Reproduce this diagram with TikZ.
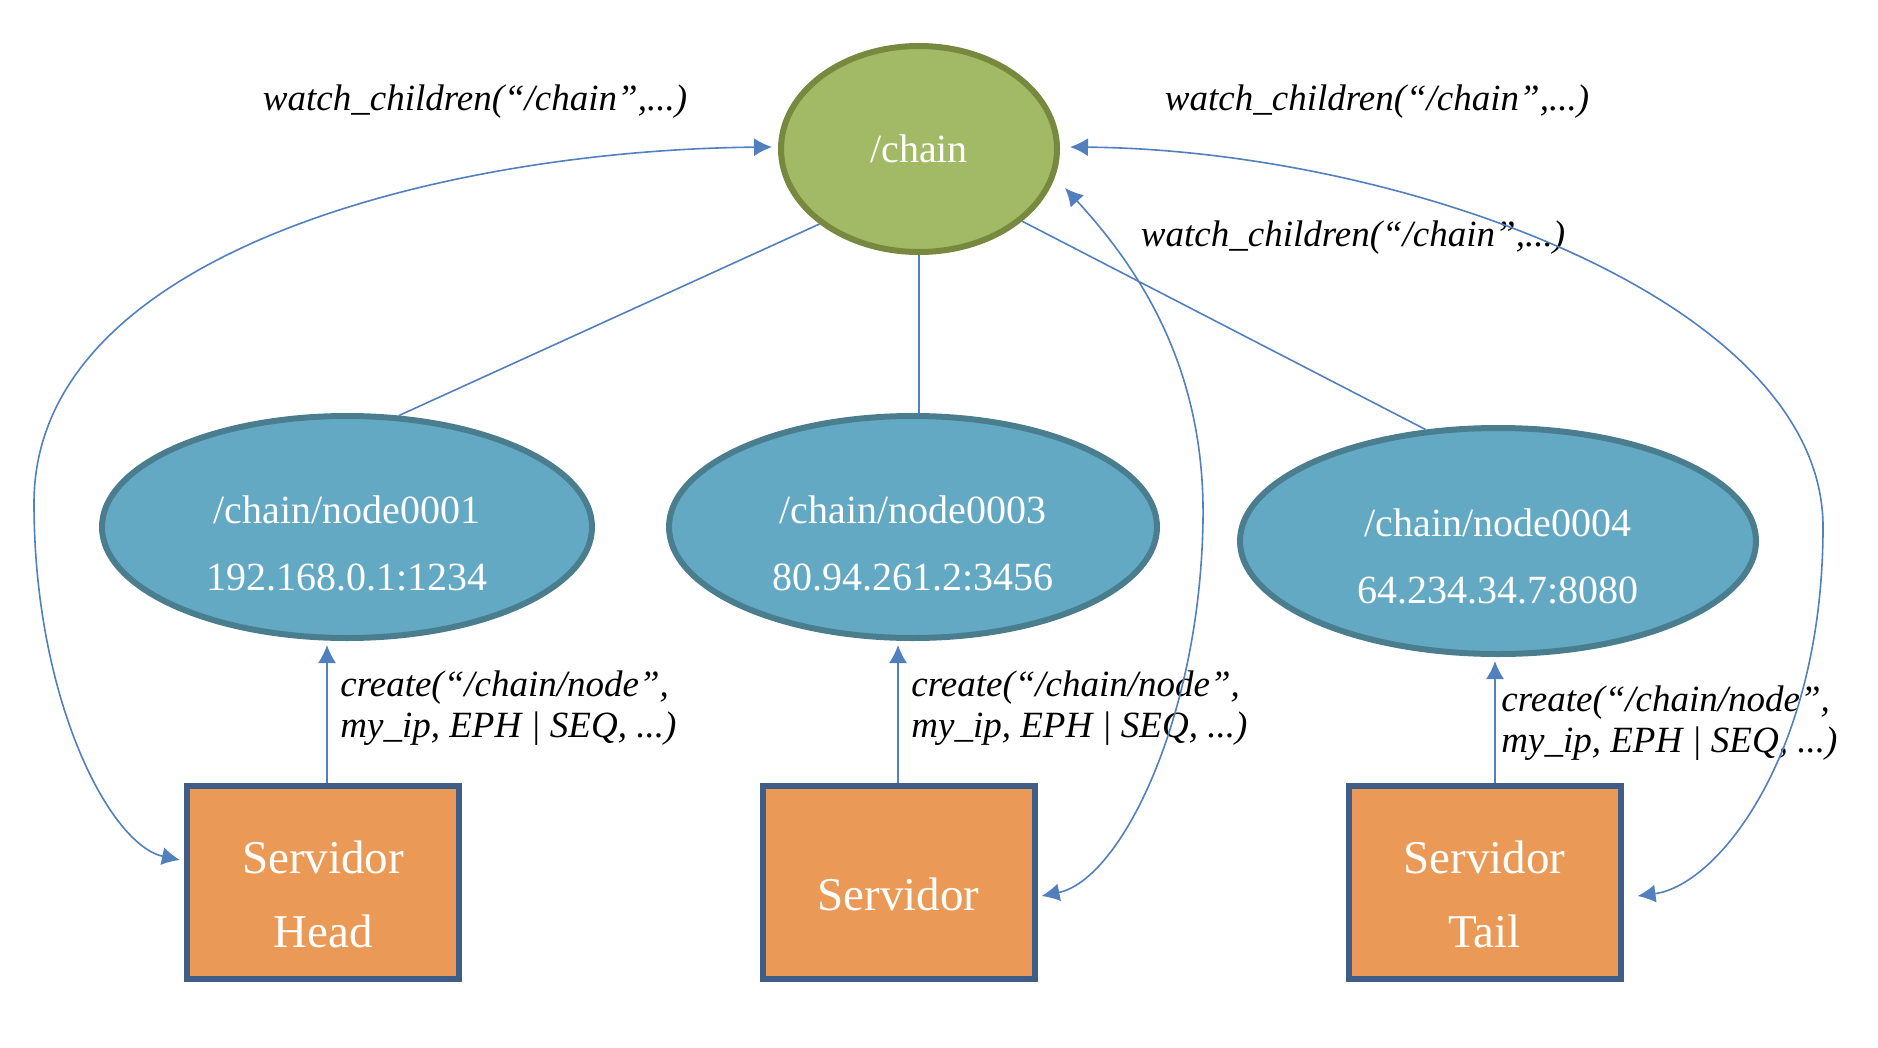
\documentclass[tikz,border=0pt]{standalone}
\usepackage{fontspec}
\setmainfont{Liberation Serif}
\usetikzlibrary{arrows.meta,calc,shapes.geometric}
\definecolor{gfill}{RGB}{162,185,101}
\definecolor{gdraw}{RGB}{118,137,63}
\definecolor{bfill}{RGB}{99,169,196}
\definecolor{bdraw}{RGB}{74,126,143}
\definecolor{ofill}{RGB}{234,154,86}
\definecolor{odraw}{RGB}{64,93,135}
\definecolor{lcol}{RGB}{82,127,190}
\begin{document}
\begin{tikzpicture}[x=0.5pt,y=-0.5pt,
  chainst/.style={ellipse,draw=gdraw,fill=gfill,line width=3pt,inner sep=0pt,minimum width=138pt,minimum height=103pt},
  znode/.style={ellipse,draw=bdraw,fill=bfill,line width=3pt,inner sep=0pt},
  srv/.style={rectangle,draw=odraw,fill=ofill,line width=3pt,inner sep=0pt,minimum width=136pt,minimum height=96.5pt},
  wtxt/.style={text=white,align=center,inner sep=0pt},
  lbl/.style={font=\fontsize{18.5}{20.5}\selectfont\itshape,inner sep=0pt,align=left},
  conn/.style={draw=lcol,line width=0.8pt},
  arr/.style={conn,-{Latex[length=9pt,width=9pt]}},
  darr/.style={conn,{Latex[length=9pt,width=9pt]}-{Latex[length=9pt,width=9pt]}}
]
\useasboundingbox (0,0) rectangle (1878,1048);

% nodes
\node[chainst] (chain) at (919,149) {};
\node[wtxt,font=\fontsize{20}{24}\selectfont] (chaint) at (919,149) {/chain};

\node[znode,minimum width=245pt,minimum height=111pt] (n1) at (347,527) {};
\node[znode,minimum width=244pt,minimum height=111pt] (n3) at (913,527) {};
\node[znode,minimum width=258pt,minimum height=113pt] (n4) at (1498,541) {};
\node[wtxt,font=\fontsize{20}{33.5}\selectfont] (n1t) at (347,543) {/chain/node0001\\192.168.0.1:1234};
\node[wtxt,font=\fontsize{20}{33.5}\selectfont] (n3t) at (913,543) {/chain/node0003\\80.94.261.2:3456};
\node[wtxt,font=\fontsize{20}{33.5}\selectfont] (n4t) at (1498,556) {/chain/node0004\\64.234.34.7:8080};

\node[srv] (head) at (323,882) {};
\node[srv] (serv) at (898.5,882) {};
\node[srv] (tail) at (1484.5,882) {};
\node[wtxt,font=\fontsize{23.5}{37}\selectfont] (headt) at (323,894) {Servidor\\Head};
\node[wtxt,font=\fontsize{23.5}{37}\selectfont] (servt) at (898.5,894) {Servidor};
\node[wtxt,font=\fontsize{23.5}{37}\selectfont] (tailt) at (1484.5,894) {Servidor\\Tail};

% labels
\node[lbl] (w1) at (475,102) {watch\_children(“/chain”,...)};
\node[lbl] (w2) at (1377,102) {watch\_children(“/chain”,...)};
\node[lbl] (w3) at (1353,238) {watch\_children(“/chain”,...)};
\node[lbl,anchor=west] (c1) at (340,708) {create(“/chain/node”,\\my\_ip, EPH | SEQ, ...)};
\node[lbl,anchor=west] (c3) at (911,708) {create(“/chain/node”,\\my\_ip, EPH | SEQ, ...)};
\node[lbl,anchor=west] (c4) at (1501,723) {create(“/chain/node”,\\my\_ip, EPH | SEQ, ...)};

% tree lines
\draw[conn] (chain.217) -- (n1.65);
\draw[conn] (chain.south) -- (chain.south |- n3.north);
\draw[conn] (chain.-35) -- (n4.123);

% create arrows
\coordinate (h0) at (327,783);
\coordinate (s0) at (898,783);
\coordinate (t0) at (1495,783);
\draw[arr,shorten >=2pt] (h0) -- (h0 |- n1.south);
\draw[arr,shorten >=2pt] (s0) -- (s0 |- n3.south);
\draw[arr,shorten >=2pt] (t0) -- (t0 |- n4.south);

% watch curves
\coordinate (lA) at ($(chain.west)+(-6,-2)$);
\coordinate (lB) at ($(head.west)+(-4,-22)$);
\draw[darr] (lA) .. controls (450,150) and (34,250) .. (34,503) .. controls (34,700) and (110,845) .. (lB);

\coordinate (rA) at ($(chain.east)+(10,-2)$);
\coordinate (rB) at ($(tail.east)+(14,14)$);
\draw[darr] (rA) .. controls (1400,150) and (1823,300) .. (1823,527) .. controls (1823,750) and (1720,885) .. (rB);

\coordinate (mA) at ($(chain.center)+(146,39)$);
\coordinate (mB) at ($(serv.east)+(4,14)$);
\draw[darr] (mA) .. controls (1150,280) and (1205,380) .. (1203,520) .. controls (1200,720) and (1120,880) .. (mB);
\end{tikzpicture}
\end{document}
